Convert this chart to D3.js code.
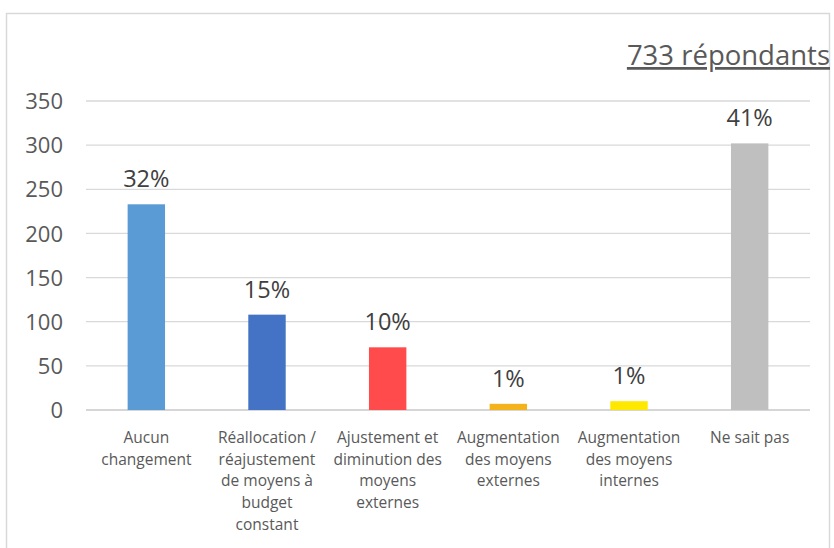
<!DOCTYPE html>
<html><head><meta charset="utf-8">
<script src="https://cdn.jsdelivr.net/npm/d3@7"></script>
<style>
body{margin:0;background:#fff;}
svg{display:block;font-family:"Open Sans",sans-serif;}
</style></head>
<body>
<svg id="c" width="834" height="548"></svg>
<script>
const categories = [
  ["Aucun","changement"],
  ["Réallocation /","réajustement","de moyens à","budget","constant"],
  ["Ajustement et","diminution des","moyens","externes"],
  ["Augmentation","des moyens","externes"],
  ["Augmentation","des moyens","internes"],
  ["Ne sait pas"]
];
const values = [233, 108, 71, 7, 10, 302];
const percentLabels = ["32%","15%","10%","1%","1%","41%"];
const colors = ["#5b9bd5","#4472c4","#ff4b4b","#f5b31b","#ffe800","#bfbfbf"];
const yTicks = [0,50,100,150,200,250,300,350];
const title = "733 répondants";

const svg = d3.select("#c");
// frame
svg.append("rect").attr("x",6.5).attr("y",13.5).attr("width",823).attr("height",560)
  .attr("fill","none").attr("stroke","#d9d9d9").attr("stroke-width",1.5);

const x = d3.scaleBand().domain(d3.range(values.length)).range([86,810]).paddingInner(0.69).paddingOuter(0.345);
const y = d3.scaleLinear().domain([0,350]).range([410,101]);

// gridlines
svg.append("g").selectAll("line").data(yTicks).join("line")
  .attr("x1",86).attr("x2",810).attr("y1",d=>y(d)).attr("y2",d=>y(d))
  .attr("stroke",d=>d===0?"#c8c8c8":"#d9d9d9").attr("stroke-width",1.3);

// y axis
const ya = svg.append("g").attr("transform","translate(63,0)")
  .call(d3.axisLeft(y).tickValues(yTicks).tickSize(0).tickPadding(0));
ya.select(".domain").remove();
ya.selectAll("text").attr("font-size",22).attr("fill","#595959").attr("font-family","Open Sans, sans-serif").attr("dy","0.35em");

// bars
svg.append("g").selectAll("rect").data(values).join("rect")
  .attr("x",(d,i)=>x(i)).attr("width",x.bandwidth())
  .attr("y",d=>y(d)).attr("height",d=>y(0)-y(d))
  .attr("fill",(d,i)=>colors[i]);

// value labels
svg.append("g").selectAll("text").data(values).join("text")
  .attr("x",(d,i)=>x(i)+x.bandwidth()/2).attr("y",d=>y(d)-17)
  .attr("text-anchor","middle").attr("font-size",23.5).attr("fill","#404040")
  .text((d,i)=>percentLabels[i]);

// category labels
const xa = svg.append("g").attr("transform","translate(0,410)")
  .call(d3.axisBottom(x).tickSize(0).tickFormat(""));
xa.select(".domain").remove();
xa.selectAll(".tick").each(function(d){
  const t = d3.select(this).append("text").attr("text-anchor","middle")
    .attr("font-size",15.5).attr("fill","#595959").attr("font-family","Open Sans, sans-serif");
  categories[d].forEach((ln,k)=>{
    t.append("tspan").attr("x",0).attr("y",33+k*21.7).text(ln);
  });
});

// title
svg.append("text").attr("x",830).attr("y",65).attr("text-anchor","end")
  .attr("font-size",27.5).attr("fill","#595959").attr("text-decoration","underline")
  .text(title);
</script>
</body></html>
